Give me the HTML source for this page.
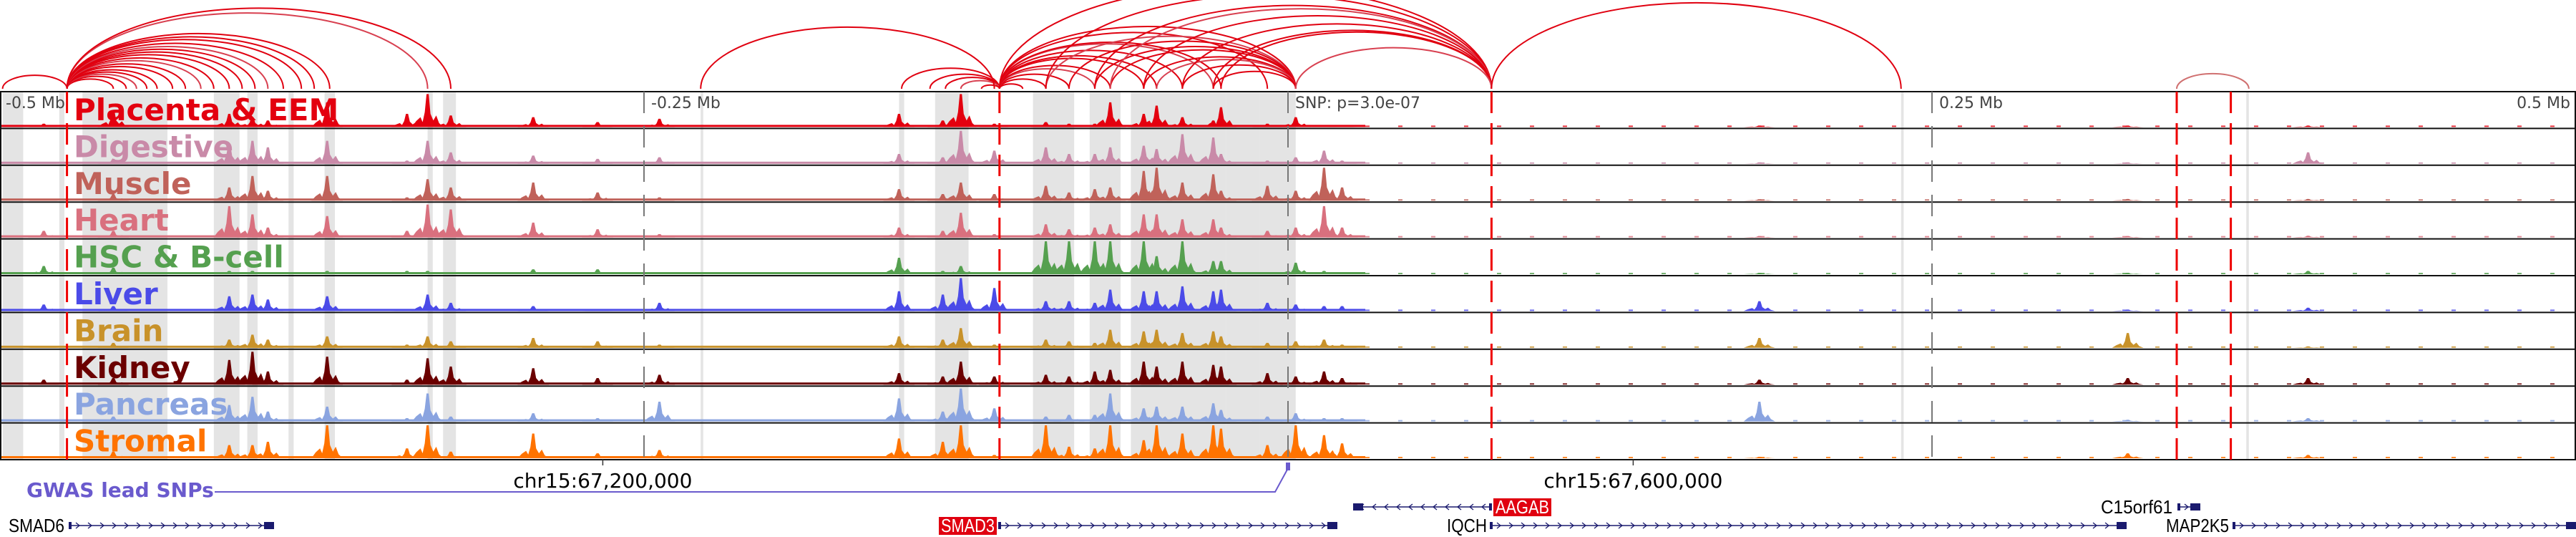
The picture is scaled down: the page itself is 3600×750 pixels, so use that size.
<!DOCTYPE html>
<html><head><meta charset="utf-8">
<style>
html,body{margin:0;padding:0;background:#fff;}
svg{display:block;font-family:"DejaVu Sans","Liberation Sans",sans-serif;}
</style></head>
<body>
<svg id="chart" width="3600" height="750" viewBox="0 0 3600 750" xmlns="http://www.w3.org/2000/svg">
<defs><clipPath id="arcclip"><rect x="0" y="0" width="3600" height="125"/></clipPath></defs>
<g id="bands"></g>
<g id="arcs" clip-path="url(#arcclip)"></g>
<g id="tracks"></g>
<g id="vlines"></g>
<g id="labels"></g>
<g id="bottom"></g>
</svg>
<script>
// ---- data (genomic offsets in kb relative to lead SNP) ----
const peakKb = [-483,-456,-411,-402,-396,-373,-342,-334,-325,-293,-268,-244,-151,-134,-127,-114,-94,-85,-75,-69,-56,-51,-41,-29,-26,-8,3,14,21,183,326,396];
const trackNames = ["Placenta & EEM","Digestive","Muscle","Heart","HSC & B-cell","Liver","Brain","Kidney","Pancreas","Stromal"];
const trackColors = ["#e3000f","#c98aa8","#c0625a","#d9707e","#55a04f","#4b4be8","#c8922a","#6b0000","#8aa4e0","#ff7300"];
const placenta = [.1,.5,.4,.3,.2,.75,.4,1,.35,.3,.15,.25,.4,.2,1,.1,.15,.1,.1,.75,.4,.65,.3,.2,.6,.1,.3,.05,.05,.02,.02,.02];
const digestive = [.05,.15,.6,.7,.5,.7,.1,.7,.35,.25,.15,.2,.3,.2,1,.4,.5,.3,.3,.5,.55,.45,.9,.8,.3,.1,.2,.4,.1,.02,.02,.35];
const muscle = [.05,.2,.4,.75,.3,.75,.1,.65,.4,.55,.25,.1,.35,.2,.55,.2,.45,.25,.35,.4,.9,1,.55,.8,.3,.45,.3,1,.4,.02,.05,.05];
const heart = [.2,.2,.95,.7,.3,.65,.2,1,.85,.45,.25,.1,.3,.2,.75,.1,.4,.25,.3,.4,.7,.7,.55,.55,.3,.2,.3,.95,.3,.02,.02,.05];
const hsc = [.25,.2,.1,.1,.05,.1,.1,.1,.05,.15,.15,.05,.5,.1,.25,.05,1,1,1,1,1,.55,1,.4,.4,.05,.35,.1,.02,.02,.02,.1];
const liver = [.2,.15,.45,.5,.35,.45,.05,.5,.25,.15,.05,.25,.6,.5,1,.7,.3,.3,.25,.65,.6,.6,.75,.6,.65,.25,.2,.15,.15,.3,.02,.1];
const brain = [.05,.15,.25,.4,.25,.35,.1,.35,.2,.3,.2,.1,.35,.25,.6,.1,.25,.2,.15,.55,.5,.55,.45,.5,.35,.15,.2,.25,.1,.3,.45,.02];
const kidney = [.15,.2,.75,1,.4,.85,.15,.8,.55,.5,.2,.3,.35,.25,.7,.25,.3,.25,.4,.45,.7,.55,.7,.6,.55,.35,.25,.4,.2,.15,.2,.2];
const pancreas = [.05,.15,.5,.75,.3,.45,.1,.85,.15,.25,.1,.6,.7,.3,1,.4,.15,.2,.2,.85,.4,.45,.45,.55,.35,.15,.25,.1,.1,.6,.05,.1];
const stromal = [.05,.2,.4,.4,.5,1,.3,1,.2,.75,.15,.25,.6,.5,1,.1,1,.35,.3,1,.55,1,.75,1,.9,.4,1,.7,.45,.02,.15,.1];
const trackValues = [placenta,digestive,muscle,heart,hsc,liver,brain,kidney,pancreas,stromal];
const bandStartKb = [-499,-477,-468,-461,-446,-417,-404,-388,-374,-334,-328,-228,-151,-137,-99,-95,-77,-61,-24,-11,238,372];
const bandEndKb = [-491,-475,-451,-435,-435,-407,-400,-386,-370,-332,-323,-227,-149,-124,-91,-83,-65,-24,-11,3,239,373];
const arcStartKb = [-499,-474,-474,-474,-474,-474,-474,-474,-474,-474,-474,-474,-474,-474,-474,-474,-474,-474,-474,-474,-150,-139,-133,-127,-119,-112,-112,-112,-112,-112,-112,-112,-112,-112,-112,-112,-112,-112,-94,-85,-75,-69,-56,-51,-41,-29,-94,-75,-69,-56,-41,-29,-26,3,-228,79,345];
const arcEndKb = [-474,-456,-451,-447,-443,-439,-433,-428,-422,-417,-411,-406,-401,-396,-390,-383,-378,-372,-334,-325,-112,-112,-112,-112,-112,-103,-94,-85,-75,-69,-56,-51,-41,-29,-26,-8,3,79,3,3,3,3,3,3,3,3,79,79,79,79,79,79,79,79,-114,238,373];
const redDashKb = [-474,-112,79,345,366];
const grayDashKb = [-250,0,250];
const axisTickKb = [-500,-250,250,500];
const axisTickText = ["-0.5 Mb","-0.25 Mb","0.25 Mb","0.5 Mb"];

// ---- scales ----
const xOf = kb => 1800 + kb*3.6;
const TOP = 128, TH = 51.4, NT = 10, PH = 46;
const NS = "http://www.w3.org/2000/svg";
function mk(tag, attrs, parent){const e=document.createElementNS(NS,tag);for(const k in attrs)e.setAttribute(k,attrs[k]);parent.appendChild(e);return e;}
const gB=document.getElementById('bands'),gA=document.getElementById('arcs'),gT=document.getElementById('tracks'),gV=document.getElementById('vlines'),gL=document.getElementById('labels'),gBot=document.getElementById('bottom');

// bands
bandStartKb.forEach((s,i)=>{
  const x1=xOf(s), x2=xOf(bandEndKb[i]);
  const r=mk('rect',{x:x1,y:TOP,width:Math.max(3,x2-x1),height:TH*NT,fill:'#e4e4e4'},gB);
  
  
});

// arcs
arcStartKb.forEach((s,i)=>{
  const x1=xOf(s), x2=xOf(arcEndKb[i]); const w=x2-x1; const h=w*0.21;
  const col = s===345 ? '#d07070' : ((i%5===3)?'#d84050':'#e00010');
  const p=mk('path',{d:`M${x1},124 A${w/2},${h} 0 0 1 ${x2},124`,fill:'none',stroke:col,'stroke-width':2},gA);
  
  
});

// tracks
trackValues.forEach((vals,t)=>{
  const top=TOP+t*TH, base=top+TH-2, col=trackColors[t];
  const g=mk('g',{},gT);
  
  
  mk('rect',{x:0,y:base-3,width:xOf(30),height:3,fill:col},g);
  mk('line',{x1:xOf(30),y1:base-1,x2:3600,y2:base-1,stroke:col,'stroke-width':2,'stroke-dasharray':'6 40',opacity:0.8},g);
  vals.forEach((v,i)=>{
    const x=xOf(peakKb[i]), h=Math.max(2,v*PH);
    const p=mk('polygon',{points:`${x-22},${base} ${x-16},${base-h*0.18} ${x-10},${base-h*0.3} ${x-7},${base-h*0.15} ${x-4},${base-h*0.45} ${x-1.5},${base-h} ${x+1.5},${base-h} ${x+4},${base-h*0.4} ${x+8},${base-h*0.2} ${x+12},${base-h*0.35} ${x+16},${base-h*0.12} ${x+22},${base}`,fill:col},g);
    
    
  });
  const bl=mk('line',{x1:0,y1:top+TH,x2:3600,y2:top+TH,stroke:'#111','stroke-width':2},gT);
  
  
  const lb=mk('text',{x:103,y:top+40,fill:col,'font-size':42,'font-weight':'bold'},gL);
  lb.textContent=trackNames[t];
  
  
});
mk('line',{x1:0,y1:TOP,x2:3600,y2:TOP,stroke:'#111','stroke-width':2},gT);
mk('line',{x1:1,y1:TOP,x2:1,y2:TOP+TH*NT,stroke:'#111','stroke-width':2},gT);
mk('line',{x1:3599,y1:TOP,x2:3599,y2:TOP+TH*NT,stroke:'#111','stroke-width':2},gT);

// vertical marker lines
grayDashKb.forEach(k=>{
  const l=mk('line',{x1:xOf(k),y1:TOP,x2:xOf(k),y2:TOP+TH*NT,stroke:'#777','stroke-width':2,'stroke-dasharray':'30 18'},gV);
  
  
});
redDashKb.forEach(k=>{
  const l=mk('line',{x1:xOf(k),y1:TOP,x2:xOf(k),y2:TOP+TH*NT,stroke:'#ee0000','stroke-width':3,'stroke-dasharray':'30 14'},gV);
  
  
});
axisTickKb.forEach((k,i)=>{
  const x=xOf(k); const anchor = k===500?'end':'start';
  const t=mk('text',{x:k===500?x-8:(k===-500?x+8:x+10),y:151,'font-size':22,fill:'#444','text-anchor':anchor},gL);
  t.textContent=axisTickText[i];
  
  
});
const snp=mk('text',{x:1810,y:151,'font-size':22,fill:'#444'},gL);
snp.textContent='SNP: p=3.0e-07';



// bottom axis ticks
[[-266,'chr15:67,200,000'],[134,'chr15:67,600,000']].forEach(([k,s])=>{
  const x=xOf(k);
  mk('line',{x1:x,y1:642,x2:x,y2:650,stroke:'#333','stroke-width':1.5},gBot);
  const t=mk('text',{x:x,y:681,'font-size':28,'text-anchor':'middle',fill:'#000'},gBot);
  t.textContent=s;
  
  
});
</script>
<script>
(function(){
const NS="http://www.w3.org/2000/svg";const g=document.getElementById('bottom');
function mk(tag,a){const e=document.createElementNS(NS,tag);for(const k in a)e.setAttribute(k,a[k]);g.appendChild(e);return e;}
const gw=mk('text',{x:37,y:694,'font-size':28,'font-weight':'bold',fill:'#6a5acd'});gw.textContent='GWAS lead SNPs';


mk('polyline',{points:'300,687 1782,687 1800,654',fill:'none',stroke:'#6a5acd','stroke-width':2});
const sn=mk('rect',{x:1797,y:646,width:6,height:11,fill:'#6a5acd'});


function gene(name,x1,x2,y,dir,label,labelX,red,tw){
  const gg=document.createElementNS(NS,'g');g.appendChild(gg);
  
  
  const L=(t,a)=>{const e=document.createElementNS(NS,t);for(const k in a)e.setAttribute(k,a[k]);gg.appendChild(e);return e;};
  L('line',{x1:x1,y1:y,x2:x2,y2:y,stroke:'#1a1a6e','stroke-width':1.5});
  let s='';for(let x=x1+10;x<x2-8;x+=17){s+=dir>0?`M${x},${y-4} L${x+5},${y} L${x},${y+4} `:`M${x+5},${y-4} L${x},${y} L${x+5},${y+4} `;}
  L('path',{d:s,fill:'none',stroke:'#1a1a6e','stroke-width':1.3});
  L('rect',{x:dir>0?x2-14:x1,y:y-5,width:14,height:10,fill:'#1a1a6e'});
  L('rect',{x:dir>0?x1:x2-4,y:y-5,width:4,height:10,fill:'#1a1a6e'});
  if(red){L('rect',{x:labelX,y:y-12,width:red,height:25,fill:'#e00010'});}
  const t=L('text',{x:labelX+(red?3:0),y:y+9,'font-size':26,textLength:tw,lengthAdjust:'spacingAndGlyphs',fill:red?'#fff':'#000','font-family':'"Liberation Sans",sans-serif'});t.textContent=label;
}
gene('SMAD6',96,383,734,1,'SMAD6',12,0,78);
gene('SMAD3',1395,1869,734,1,'SMAD3',1312,81,75);
gene('AAGAB',1891,2085,708,-1,'AAGAB',2087,81,75);
gene('IQCH',2082,2972,734,1,'IQCH',2022,0,56);
gene('C15orf61',3043,3075,708,1,'C15orf61',2936,0,100);
gene('MAP2K5',3120,3600,734,1,'MAP2K5',3027,0,88);
})();
</script>
</body></html>
